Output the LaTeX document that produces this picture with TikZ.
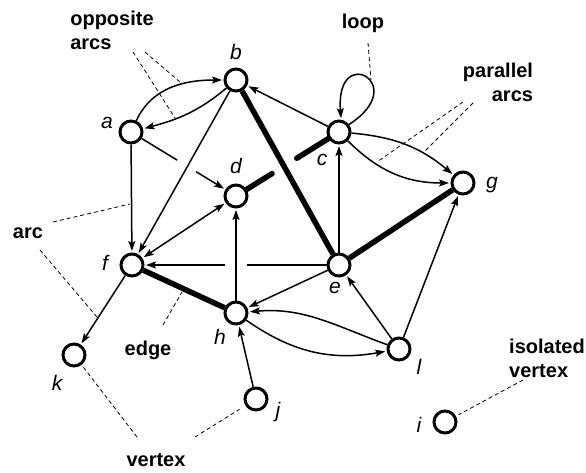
\documentclass[tikz,border=0pt]{standalone}
\usepackage{fontspec}
\setmainfont{Liberation Sans}
\usetikzlibrary{arrows.meta,calc}
\begin{document}
\begin{tikzpicture}[x=1pt,y=1pt,
  vtx/.style={circle,draw,line width=3pt,minimum size=22pt,inner sep=0pt,fill=white},
  vname/.style={font=\fontsize{21}{24}\selectfont\itshape,inner sep=0pt},
  note/.style={font=\fontsize{20}{24}\selectfont\bfseries,inner sep=0pt},
  arrowline/.style={line width=1.5pt,-{Stealth[length=10pt,width=7pt,inset=2pt]},shorten >=1.5pt},
  twoway/.style={line width=1.5pt,{Stealth[length=10pt,width=7pt,inset=2pt]}-{Stealth[length=10pt,width=7pt,inset=2pt]},shorten >=1.5pt,shorten <=1.5pt},
  plain/.style={line width=1.5pt},
  thickedge/.style={line width=5.5pt},
  ptr/.style={line width=0.8pt,dash pattern=on 4pt off 3pt}
]
\useasboundingbox (0,0) rectangle (586,-472);

% vertices
\node[vtx] (a) at (131,-132) {};
\node[vtx] (b) at (236,-80) {};
\node[vtx] (c) at (339,-132) {};
\node[vtx] (d) at (236,-196) {};
\node[vtx] (e) at (339,-265) {};
\node[vtx] (f) at (132,-265) {};
\node[vtx] (g) at (463,-183) {};
\node[vtx] (h) at (236,-313) {};
\node[vtx] (i) at (445,-422) {};
\node[vtx] (j) at (256,-399) {};
\node[vtx] (k) at (74,-355) {};
\node[vtx] (l) at (399,-349) {};

% vertex names
\node[vname] (la) at (107,-123) {a};
\node[vname] (lb) at (236,-52) {b};
\node[vname] (lc) at (322,-160) {c};
\node[vname] (ld) at (236,-166) {d};
\node[vname] (le) at (335,-288) {e};
\node[vname] (lf) at (105,-263) {f};
\node[vname] (lg) at (492,-185) {g};
\node[vname] (lh) at (220,-337) {h};
\node[vname] (li) at (419,-425) {i};
\node[vname] (lj) at (278,-412) {j};
\node[vname] (lk) at (57,-383) {k};
\node[vname] (ll) at (419,-367) {l};

% notes
\node[note,align=left] (nopp) at (112,-30) {opposite\\arcs};
\node[note] (nloop) at (363,-23) {loop};
\node[note,align=right] (npar) at (498,-82) {parallel\\arcs};
\node[note] (narc) at (28,-233) {arc};
\node[note] (nedge) at (148,-350) {edge};
\node[note] (nvert) at (156,-460) {vertex};
\node[note,align=left] (niso) at (547,-358) {isolated\\vertex};

% thick edges
\draw[thickedge] (b) -- (e);
\draw[thickedge] (e) -- (g);
\draw[thickedge] (f) -- (h);
\draw[thickedge,line cap=round] (d) -- ($(d)!0.35!(c)$);
\draw[thickedge,line cap=round] ($(d)!0.59!(c)$) -- (c);

% arcs
\draw[arrowline] (a) to[out=65,in=180] (b);
\draw[arrowline] (b) to[out=220,in=15] (a);
\draw[plain] (a) -- ($(a)!0.44!(d)$);
\draw[arrowline] ($(a)!0.62!(d)$) -- (d);
\draw[arrowline] (a) -- (f);
\draw[arrowline] (b) -- (f);
\draw[twoway] (f) -- (d);
\draw[arrowline] (c) -- (b);
\draw[arrowline] (c.37) .. controls (412,-84) and (335,-42) .. (c.80);
\draw[arrowline] (c) to[out=-5,in=140] (g);
\draw[arrowline] (c) to[out=-45,in=180] (g);
\draw[arrowline] (e) -- (c);
\draw[plain] (e) -- ($(e)!0.444!(f)$);
\draw[arrowline] ($(e)!0.551!(f)$) -- (f);
\draw[arrowline] (h) -- (d);
\draw[arrowline] (e) -- (h);
\draw[arrowline] (f) -- (k);
\draw[arrowline] (l) to[out=160,in=5] (h);
\draw[arrowline] (h) to[out=-35,in=190] (l);
\draw[arrowline] (l) -- (e);
\draw[arrowline] (l) -- (g);
\draw[arrowline] (j) -- (h);

% pointer lines
\coordinate (p1a) at (133,-52);  \coordinate (p1b) at (175,-118);
\coordinate (p2a) at (145,-52);  \coordinate (p2b) at (180,-82);
\coordinate (p3a) at (53,-222);  \coordinate (p3b) at (130,-204);
\coordinate (p4a) at (40,-250);  \coordinate (p4b) at (97,-317);
\coordinate (p5a) at (163,-325); \coordinate (p5b) at (182,-292);
\coordinate (p6a) at (368,-43);  \coordinate (p6b) at (371,-80);
\coordinate (p7a) at (463,-102); \coordinate (p7b) at (377,-162);
\coordinate (p8a) at (473,-103); \coordinate (p8b) at (423,-153);
\coordinate (p9a) at (137,-437);
\coordinate (p10a) at (195,-437);
\coordinate (p11a) at (523,-380);
\draw[ptr] (p1a) -- (p1b);
\draw[ptr] (p2a) -- (p2b);
\draw[ptr] (p3a) -- (p3b);
\draw[ptr] (p4a) -- (p4b);
\draw[ptr] (p5a) -- (p5b);
\draw[ptr] (p6a) -- (p6b);
\draw[ptr] (p7a) -- (p7b);
\draw[ptr] (p8a) -- (p8b);
\draw[ptr,shorten >=3pt] (p9a) -- (k);
\draw[ptr,shorten >=7pt] (p10a) -- (j);
\draw[ptr,shorten >=3pt] (p11a) -- (i);
\end{tikzpicture}
\end{document}
